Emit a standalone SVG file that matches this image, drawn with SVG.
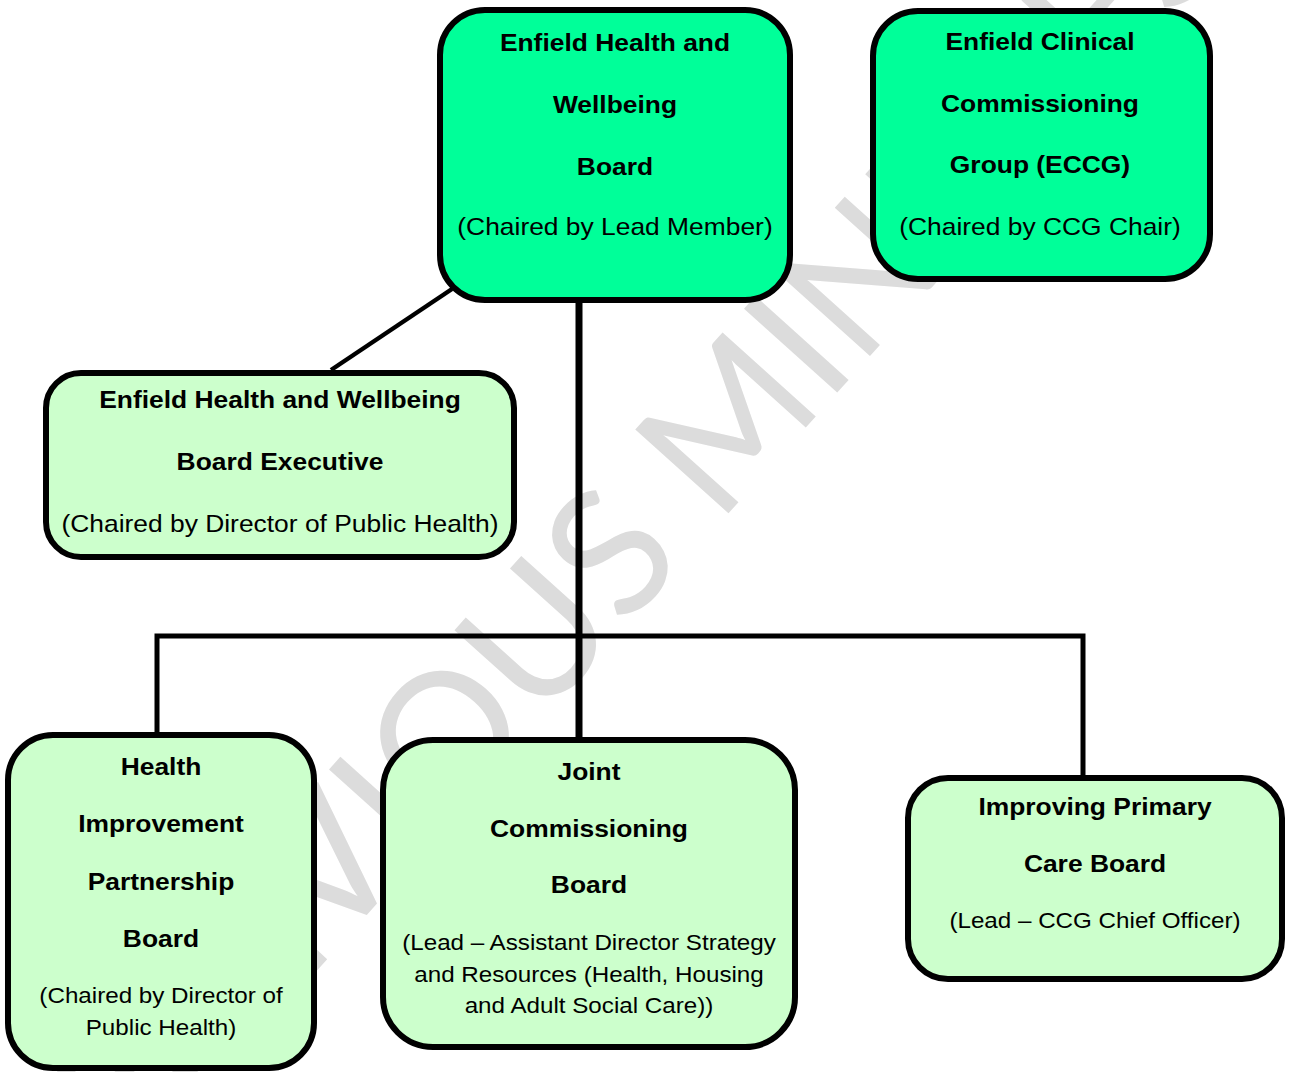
<svg xmlns="http://www.w3.org/2000/svg" width="1289" height="1072" viewBox="0 0 1289 1072">
<style>
.top{fill:#00ff99;stroke:#000;stroke-width:6}
.sub{fill:#ccffcc;stroke:#000;stroke-width:6}
.b{font-family:"Liberation Sans",Arial,sans-serif;font-weight:bold;font-size:24px;fill:#000;text-anchor:middle}
.r{font-family:"Liberation Sans",Arial,sans-serif;font-size:24px;fill:#000;text-anchor:middle}
.s{font-size:22px}
.wm{font-family:Lato,"Open Sans",sans-serif;font-size:175px;fill:#dcdcdc}
.ln{stroke:#000;fill:none}
</style>
<rect width="1289" height="1072" fill="#fff"/>
<g id="watermark">
<text class="wm" transform="translate(121 1188) rotate(-48)">PREVIOUS MINUTES</text>
</g>
<g id="connectors">
<line class="ln" x1="331" y1="370" x2="452" y2="289" stroke-width="4.5"/>
<line class="ln" x1="579" y1="300" x2="579" y2="740" stroke-width="7"/>
<polyline class="ln" points="157,735 157,636 1083,636 1083,778" stroke-width="5"/>
</g>
<g id="node-hwb">
<rect class="top" x="440" y="10" width="350" height="290" rx="45"/>
<g transform="translate(615 0) scale(1.1 1)">
<text class="b" x="0" y="51">Enfield Health and</text>
<text class="b" x="0" y="113">Wellbeing</text>
<text class="b" x="0" y="175">Board</text>
<text class="r" x="0" y="235">(Chaired by Lead Member)</text>
</g>
</g>
<g id="node-eccg">
<rect class="top" x="873" y="11" width="337" height="268" rx="45"/>
<g transform="translate(1040 0) scale(1.1 1)">
<text class="b" x="0" y="50">Enfield Clinical</text>
<text class="b" x="0" y="112">Commissioning</text>
<text class="b" x="0" y="173">Group (ECCG)</text>
<text class="r" x="0" y="235">(Chaired by CCG Chair)</text>
</g>
</g>
<g id="node-exec">
<rect class="sub" x="46" y="373" width="468" height="184" rx="35"/>
<g transform="translate(280 0) scale(1.1 1)">
<text class="b" x="0" y="408">Enfield Health and Wellbeing</text>
<text class="b" x="0" y="470">Board Executive</text>
<text class="r" x="0" y="532">(Chaired by Director of Public Health)</text>
</g>
</g>
<g id="node-hipb">
<rect class="sub" x="8" y="735" width="306" height="333" rx="45"/>
<g transform="translate(161 0) scale(1.1 1)">
<text class="b" x="0" y="775">Health</text>
<text class="b" x="0" y="832">Improvement</text>
<text class="b" x="0" y="890">Partnership</text>
<text class="b" x="0" y="947">Board</text>
<text class="r s" x="0" y="1003">(Chaired by Director of</text>
<text class="r s" x="0" y="1035">Public Health)</text>
</g>
</g>
<g id="node-jcb">
<rect class="sub" x="383" y="740" width="412" height="307" rx="50"/>
<g transform="translate(589 0) scale(1.1 1)">
<text class="b" x="0" y="780">Joint</text>
<text class="b" x="0" y="837">Commissioning</text>
<text class="b" x="0" y="893">Board</text>
<text class="r s" x="0" y="950">(Lead – Assistant Director Strategy</text>
<text class="r s" x="0" y="982">and Resources (Health, Housing</text>
<text class="r s" x="0" y="1013">and Adult Social Care))</text>
</g>
</g>
<g id="node-ipcb">
<rect class="sub" x="908" y="778" width="374" height="201" rx="40"/>
<g transform="translate(1095 0) scale(1.1 1)">
<text class="b" x="0" y="815">Improving Primary</text>
<text class="b" x="0" y="872">Care Board</text>
<text class="r s" x="0" y="928">(Lead – CCG Chief Officer)</text>
</g>
</g>
</svg>
